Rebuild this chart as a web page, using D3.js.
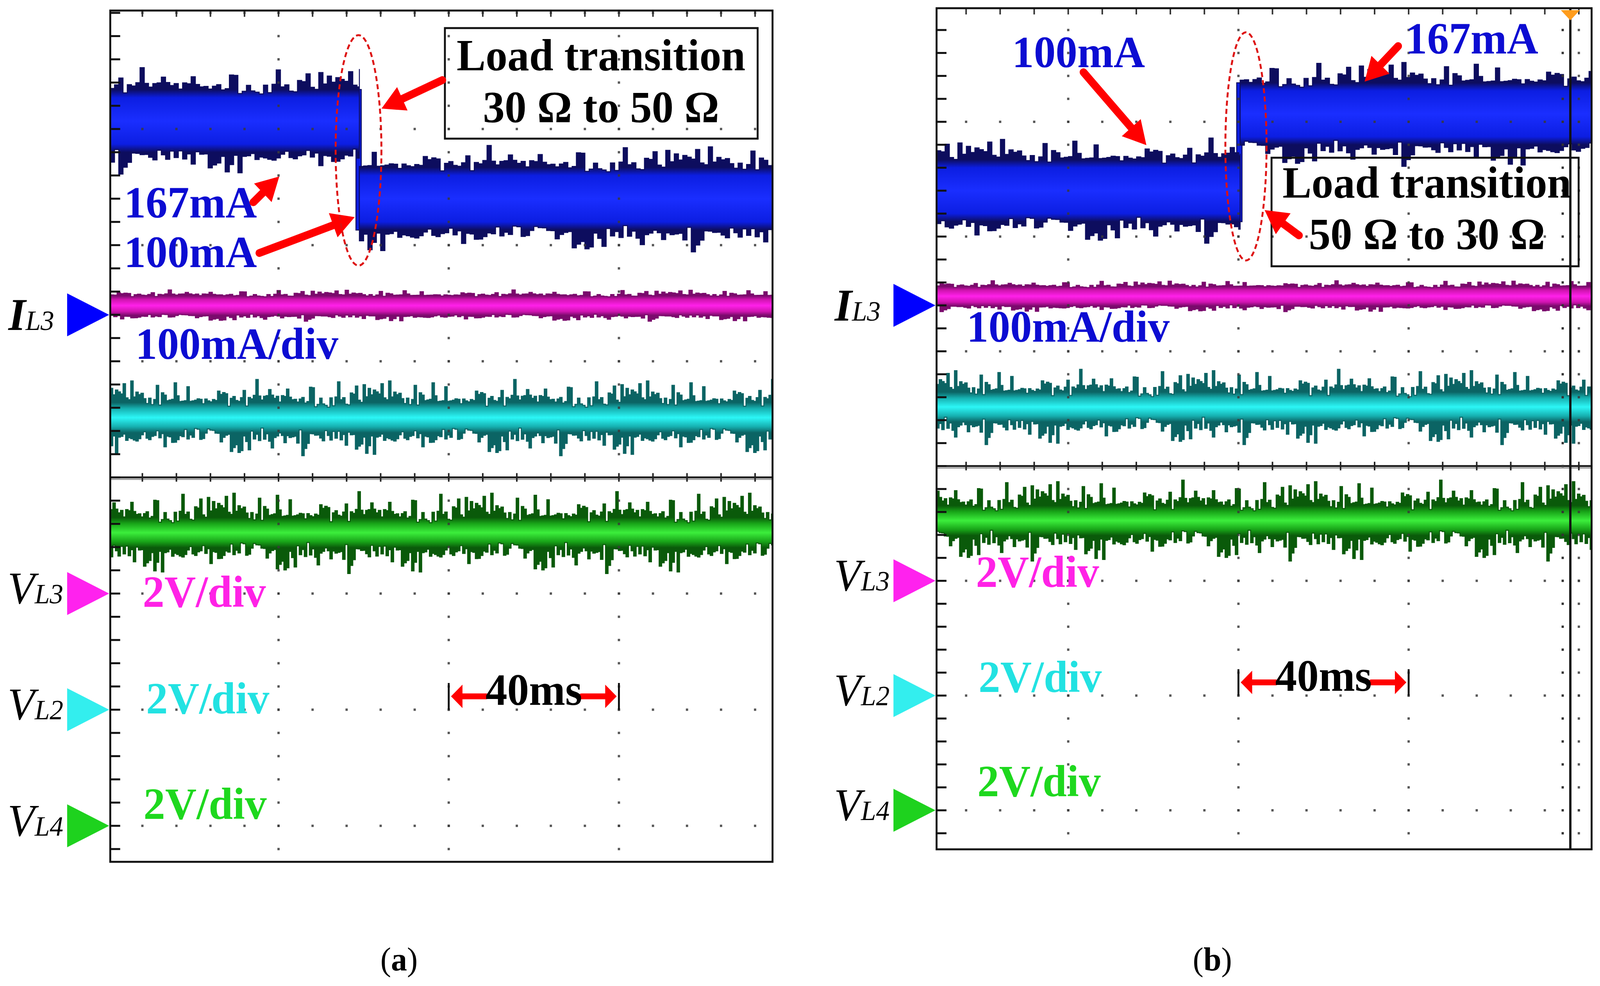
<!DOCTYPE html>
<html>
<head>
<meta charset="utf-8">
<script src="https://cdn.jsdelivr.net/npm/d3@7"></script>
<style>
html, body { margin: 0; padding: 0; width: 100%; height: 100%; overflow: hidden; background: #fff; }
svg { display: block; width: 100vw; height: 100vh; }
text { font-family: "Liberation Serif", "Times New Roman", serif; }
</style>
</head>
<body>
<script>
var W = 4194, H = 2525;

var panelIds = ["a", "b"];
var timeWindow = [[0.45, 156.1], [9.06, 163.0]];   // ms shown in each capture
var divWindow = [[4.02, -3.31], [3.99, -3.34]];    // vertical divisions shown
var transitionMs = [59.0, 80.4];
var iL3Before = [167, 100];                        // mA
var iL3After = [100, 167];                         // mA
var vL3Level = [4.96, 4.96];                       // V
var vL2Level = [5.03, 5.03];
var vL4Level = [5.05, 5.05];
var loadText = ["30 Ω to 50 Ω", "50 Ω to 30 Ω"];
var cursorMs = [null, 158.0];

var msPerDiv = 40, mAPerDiv = 100, vPerDiv = 2, minorPerDiv = 5;

var channelNames = ["I", "V", "V", "V"];
var channelSubs = ["L3", "L3", "L2", "L4"];
var channelGround = [1.4, -1, -2, -3];             // divisions
var scaleLabels = ["100mA/div", "2V/div", "2V/div", "2V/div"];

// ripple: half width of the dense band and reach of the spikes (channel units)
var rippleCore = [27, 0.17, 0.26, 0.26];
var rippleSpike = [19, 0.10, 0.40, 0.45];
// relative spike heights picked off the trace edges
var ripplePattern = [
  0.18, -0.10, 0.32, 0.05, 0.64, 0.12, -0.05, 0.27, 0.41, 0.08,
  0.21, -0.18, 0.93, 0.15, 0.02, 0.36, 0.11, 0.52, -0.08, 0.24,
  0.07, 0.30, 0.71, 0.14, -0.15, 0.19, 0.45, 0.03, 0.26, 0.10,
  0.85, 0.22, -0.06, 0.34, 0.13, 0.58, 0.01, 0.29, 0.16, -0.12,
  0.40, 0.09, 0.23, 0.77, 0.04, 0.31, -0.20, 0.17, 0.49, 0.12,
  0.25, 0.06, 0.99, 0.20, -0.04, 0.35, 0.14, 0.61, 0.08, 0.28,
  -0.14, 0.19, 0.43, 0.02, 0.33, 0.68, 0.11, 0.24, -0.09, 0.38,
  0.15, 0.54, 0.05, 0.27, 0.89, 0.13, -0.16, 0.22, 0.46, 0.07,
  0.30, 0.12, 0.74, 0.18, -0.02, 0.37, 0.10, 0.56, 0.21, -0.11,
  0.26, 0.04, 0.81, 0.16, 0.32, -0.07, 0.42, 0.09, 0.66, 0.20, 0.14
];

// ---- layout (pixels / data coords of annotations) ----
var frames = [
  {x0: 289, x1: 2025, y0: 27, y1: 2207},
  {x0: 2455, x1: 4172, y0: 21, y1: 2175}
];
var rippleStepMs = [1.0, 0.8, 0.6, 0.6];
var levelLabelPos = [[[3.68, 2.238], [3.68, 1.811]], [[26.81, 3.476], [119.24, 3.595]]];
var levelArrows = [
  [[34.07, 2.369, 40.17, 2.591], [35.5, 1.932, 57.9, 2.241]],
  [[43.58, 3.432, 58.37, 2.796], [117.54, 3.66, 109.65, 3.35]]
];
var boxPos = [[79.1, 152.6, 3.869, 2.917], [87.78, 159.95, 2.687, 1.741]];
var boxTextPos = [[115.8, 3.506, 3.058], [124.3, 2.34, 1.891]];
var boxArrow = [[78.5, 3.421, 64.2, 3.176], [94.23, 2.01, 86.16, 2.231]];
var ellipsePos = [[58.8, 2.816, 5.38, 0.992], [81.77, 2.786, 4.84, 0.994]];
var scaleLabelT = [[6.37, 8.07, 8.88, 8.25], [16.14, 18.3, 18.92, 18.65]];
var scaleLabelD = [[1.021, -1.114, -2.032, -2.94], [1.084, -1.052, -1.968, -2.876]];
var captionX = [1046, 3178], captionY = 2485;

var markerColors = ["#0000ff", "#ff22ee", "#33eeee", "#1ed21e"];
var labelColors = ["#0c0cd2", "#ff22e6", "#22e2e2", "#1ed81e"];
var shades = [
  {dark: "#0d0d5e", mid: "#0c1ee2", bright: "#1a2eff", edge: 0.13},
  {dark: "#7a0a6c", mid: "#d014b0", bright: "#ff20ea", edge: 0.2},
  {dark: "#0b6464", mid: "#16b0b0", bright: "#2cf6f6", edge: 0.2},
  {dark: "#0a5a0a", mid: "#18a418", bright: "#3cee3c", edge: 0.2}
];
var fontSize = 114;

var svg = d3.select("body").append("svg")
    .attr("viewBox", "0 0 " + W + " " + H)
    .attr("preserveAspectRatio", "none");
var defs = svg.append("defs");

function drawRipple(g, x, y, t0, t1, level, core, spike, ch, id, seed) {
    var step = rippleStepMs[ch];
    var n = ripplePattern.length;
    var ts = d3.range(t0, t1, step).concat([t1]);
    var pts = ts.map(function(t, i) {
        var up = ripplePattern[(i * 7 + seed) % n];
        var dn = ripplePattern[(i * 13 + seed * 3 + 17) % n];
        return {t: t, top: level + core + spike * up, bot: level - core - spike * dn};
    });
    var s = shades[ch];
    var grad = defs.append("linearGradient").attr("id", id)
        .attr("gradientUnits", "userSpaceOnUse")
        .attr("x1", 0).attr("x2", 0)
        .attr("y1", y(level + core)).attr("y2", y(level - core));
    [[0, s.dark], [s.edge, s.mid], [0.5, s.bright], [1 - s.edge, s.mid], [1, s.dark]].forEach(function(st) {
        grad.append("stop").attr("offset", st[0]).attr("stop-color", st[1]);
    });
    var area = d3.area().curve(d3.curveStepAfter)
        .x(function(d) { return x(d.t); })
        .y0(function(d) { return y(d.bot); })
        .y1(function(d) { return y(d.top); });
    g.append("path").datum(pts)
        .attr("d", area)
        .attr("fill", "url(#" + id + ")")
        .attr("stroke", s.dark).attr("stroke-width", 2.5);
}

function drawArrow(g, x1, y1, x2, y2, w, headL, headW) {
    var dx = x2 - x1, dy = y2 - y1, len = Math.sqrt(dx * dx + dy * dy);
    var ux = dx / len, uy = dy / len;
    var bx = x2 - ux * headL, by = y2 - uy * headL;
    g.append("line")
        .attr("x1", x1).attr("y1", y1)
        .attr("x2", bx + ux * 4).attr("y2", by + uy * 4)
        .attr("stroke", "#ff0000").attr("stroke-width", w).attr("stroke-linecap", "round");
    g.append("path")
        .attr("d", "M" + x2 + "," + y2 +
            "L" + (bx - uy * headW) + "," + (by + ux * headW) +
            "L" + (bx + uy * headW) + "," + (by - ux * headW) + "Z")
        .attr("fill", "#ff0000");
}

panelIds.forEach(function(pid, p) {
    var f = frames[p];
    var x = d3.scaleLinear().domain(timeWindow[p]).range([f.x0, f.x1]);
    var y = d3.scaleLinear().domain(divWindow[p]).range([f.y0, f.y1]);
    var t0 = timeWindow[p][0], t1 = timeWindow[p][1];
    var dTop = divWindow[p][0], dBot = divWindow[p][1];

    defs.append("clipPath").attr("id", "clip" + pid).append("rect")
        .attr("x", f.x0).attr("y", f.y0)
        .attr("width", f.x1 - f.x0).attr("height", f.y1 - f.y0);

    var g = svg.append("g");
    var plot = g.append("g").attr("clip-path", "url(#clip" + pid + ")");

    // ---- traces ----
    var tr = transitionMs[p];
    var iDiv = function(mA) { return channelGround[0] + mA / mAPerDiv; };
    var iCore = rippleCore[0] / mAPerDiv;
    var hi = Math.max(iDiv(iL3Before[p]), iDiv(iL3After[p]));
    var lo = Math.min(iDiv(iL3Before[p]), iDiv(iL3After[p]));
    // the edge where the current steps between the two levels
    plot.append("rect")
        .attr("x", x(tr) - 9).attr("width", 14)
        .attr("y", y(hi + iCore)).attr("height", y(lo - iCore) - y(hi + iCore))
        .attr("fill", shades[0].mid).attr("stroke", shades[0].dark).attr("stroke-width", 2.5);
    drawRipple(plot, x, y, t0, tr, iDiv(iL3Before[p]), iCore,
        rippleSpike[0] / mAPerDiv, 0, "g" + pid + "i0", 3 + p * 5);
    drawRipple(plot, x, y, tr, t1, iDiv(iL3After[p]), iCore,
        rippleSpike[0] / mAPerDiv, 0, "g" + pid + "i1", 44 + p * 5);
    var vLevels = [vL3Level[p], vL2Level[p], vL4Level[p]];
    vLevels.forEach(function(v, k) {
        var ch = k + 1;
        drawRipple(plot, x, y, t0, t1, channelGround[ch] + v / vPerDiv,
            rippleCore[ch] / vPerDiv, rippleSpike[ch] / vPerDiv, ch,
            "g" + pid + "v" + ch, 11 + ch * 23 + p * 7);
    });

    // ---- graticule ----
    var minorStep = msPerDiv / minorPerDiv;
    var minorT = d3.range(0, 200 + 1e-6, minorStep).filter(function(t) { return t > t0 && t < t1; });
    var majorT = d3.range(0, 200 + 1e-6, msPerDiv).filter(function(t) { return t > t0 && t < t1; });
    var minorD = d3.range(-25, 26).map(function(k) { return k / minorPerDiv; })
        .filter(function(d) { return d < dTop && d > dBot; });
    var majorD = d3.range(-4, 5).filter(function(d) { return d !== 0 && d < dTop && d > dBot; });

    var dots = [];
    majorD.forEach(function(d) { minorT.forEach(function(t) { dots.push([t, d]); }); });
    majorT.forEach(function(t) { minorD.forEach(function(d) { dots.push([t, d]); }); });
    plot.selectAll(".dot").data(dots).enter().append("rect")
        .attr("x", function(d) { return x(d[0]) - 3; })
        .attr("y", function(d) { return y(d[1]) - 3; })
        .attr("width", 6).attr("height", 6)
        .attr("fill", "#3a3a3a").attr("opacity", 0.85);

    // center line with ticks
    plot.append("line").attr("x1", f.x0).attr("x2", f.x1)
        .attr("y1", y(0) + 5).attr("y2", y(0) + 5)
        .attr("stroke", "#9a9a9a").attr("stroke-width", 3);
    plot.append("line").attr("x1", f.x0).attr("x2", f.x1)
        .attr("y1", y(0)).attr("y2", y(0))
        .attr("stroke", "#222").attr("stroke-width", 5);
    plot.selectAll(".ctick").data(minorT).enter().append("line")
        .attr("x1", function(t) { return x(t); }).attr("x2", function(t) { return x(t); })
        .attr("y1", y(0) - 11).attr("y2", y(0) + 11)
        .attr("stroke", "#222").attr("stroke-width", 4);

    // left and top frame ticks
    g.selectAll(".ltick").data(minorD).enter().append("line")
        .attr("x1", f.x0).attr("x2", f.x0 + 26)
        .attr("y1", function(d) { return y(d); }).attr("y2", function(d) { return y(d); })
        .attr("stroke", "#111").attr("stroke-width", 5);
    g.selectAll(".ttick").data(minorT).enter().append("line")
        .attr("x1", function(t) { return x(t); }).attr("x2", function(t) { return x(t); })
        .attr("y1", f.y0).attr("y2", f.y0 + 16)
        .attr("stroke", "#333").attr("stroke-width", 4);

    // cursor (panel b)
    if (cursorMs[p] !== null) {
        var xc = x(cursorMs[p]);
        plot.append("line").attr("x1", xc).attr("x2", xc)
            .attr("y1", f.y0).attr("y2", f.y1)
            .attr("stroke", "#111").attr("stroke-width", 6);
        plot.selectAll(".cdot").data(minorD).enter().append("rect")
            .attr("x", xc - 23).attr("y", function(d) { return y(d) - 3; })
            .attr("width", 6).attr("height", 6).attr("fill", "#333");
        g.append("path")
            .attr("d", "M" + (xc - 25) + "," + (f.y0 + 5) + "L" + (xc + 25) + "," + (f.y0 + 5) +
                "L" + xc + "," + (f.y0 + 31) + "Z")
            .attr("fill", "#ff9c1c");
    }

    // frame
    g.append("rect").attr("x", f.x0).attr("y", f.y0)
        .attr("width", f.x1 - f.x0).attr("height", f.y1 - f.y0)
        .attr("fill", "none").attr("stroke", "#111").attr("stroke-width", 5);

    // ---- channel markers ----
    channelGround.forEach(function(gd, ch) {
        var yy = y(gd);
        g.append("path")
            .attr("d", "M" + (f.x0 - 3) + "," + yy + "L" + (f.x0 - 113) + "," + (yy - 55) +
                "L" + (f.x0 - 113) + "," + (yy + 55) + "Z")
            .attr("fill", markerColors[ch]);
        var isI = channelNames[ch] === "I";
        var t = g.append("text")
            .attr("x", f.x0 - (isI ? 267 : 269))
            .attr("y", yy + (isI ? 39 : 25))
            .attr("font-style", "italic")
            .attr("fill", "#000");
        t.append("tspan").attr("font-size", 116)
            .attr("font-weight", isI ? "bold" : "normal")
            .text(channelNames[ch]);
        t.append("tspan").attr("font-size", 71).text(channelSubs[ch]);
    });

    // ---- scale labels ----
    scaleLabels.forEach(function(s, ch) {
        g.append("text")
            .attr("x", x(scaleLabelT[p][ch])).attr("y", y(scaleLabelD[p][ch]))
            .attr("font-size", fontSize).attr("font-weight", "bold")
            .attr("fill", labelColors[ch]).text(s);
    });

    // ---- level labels and arrows ----
    var levelTexts = [iL3Before[p] + "mA", iL3After[p] + "mA"];
    levelTexts.forEach(function(s, k) {
        g.append("text")
            .attr("x", x(levelLabelPos[p][k][0])).attr("y", y(levelLabelPos[p][k][1]))
            .attr("font-size", fontSize).attr("font-weight", "bold")
            .attr("fill", labelColors[0]).text(s);
        var a = levelArrows[p][k];
        drawArrow(g, x(a[0]), y(a[1]), x(a[2]), y(a[3]), 20, 60, 33);
    });

    // ---- transition ellipse, box and arrow ----
    var e = ellipsePos[p];
    g.append("ellipse")
        .attr("cx", x(e[0])).attr("cy", y(e[1]))
        .attr("rx", x(e[0] + e[2]) - x(e[0])).attr("ry", y(e[1] - e[3]) - y(e[1]))
        .attr("fill", "none").attr("stroke", "#dd1111")
        .attr("stroke-width", 5).attr("stroke-dasharray", "13,8");

    var b = boxPos[p];
    g.append("rect")
        .attr("x", x(b[0])).attr("y", y(b[2]))
        .attr("width", x(b[1]) - x(b[0])).attr("height", y(b[3]) - y(b[2]))
        .attr("fill", "none").attr("stroke", "#111").attr("stroke-width", 5);
    var bt = boxTextPos[p];
    g.append("text").attr("x", x(bt[0])).attr("y", y(bt[1]))
        .attr("text-anchor", "middle").attr("font-size", fontSize).attr("font-weight", "bold")
        .attr("fill", "#000").text("Load transition");
    g.append("text").attr("x", x(bt[0])).attr("y", y(bt[2]))
        .attr("text-anchor", "middle").attr("font-size", fontSize).attr("font-weight", "bold")
        .attr("fill", "#000").text(loadText[p]);
    var ba = boxArrow[p];
    drawArrow(g, x(ba[0]), y(ba[1]), x(ba[2]), y(ba[3]), 20, 60, 33);

    // ---- time scale marker: one division ----
    var m0 = 2 * msPerDiv, m1 = 3 * msPerDiv;
    var mc = (x(m0) + x(m1)) / 2;
    [m0, m1].forEach(function(t) {
        g.append("line").attr("x1", x(t)).attr("x2", x(t))
            .attr("y1", y(-1.77)).attr("y2", y(-2.0))
            .attr("stroke", "#111").attr("stroke-width", 5);
    });
    drawArrow(g, mc - 125, y(-1.885), x(m0) + 6, y(-1.885), 15, 30, 30);
    drawArrow(g, mc + 125, y(-1.885), x(m1) - 6, y(-1.885), 15, 30, 30);
    g.append("text").attr("x", mc).attr("y", y(-1.96))
        .attr("text-anchor", "middle").attr("font-size", fontSize).attr("font-weight", "bold")
        .attr("fill", "#000").text(msPerDiv + "ms");

    // ---- caption ----
    var cap = svg.append("text").attr("x", captionX[p]).attr("y", captionY)
        .attr("text-anchor", "middle").attr("font-size", 84).attr("fill", "#000");
    cap.append("tspan").text("(");
    cap.append("tspan").attr("font-weight", "bold").text(pid);
    cap.append("tspan").text(")");
});
</script>
</body>
</html>
